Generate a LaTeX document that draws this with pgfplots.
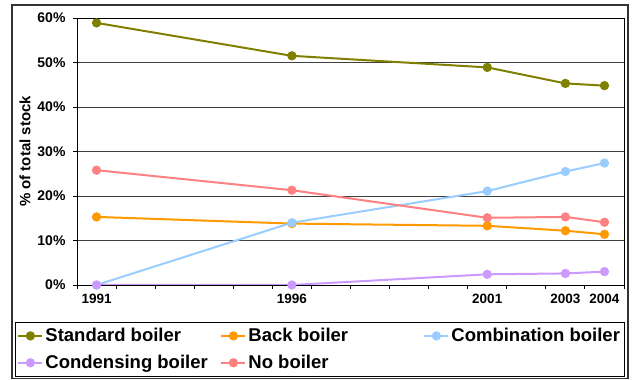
\documentclass[border=0pt]{standalone}
\usepackage{pgfplots}
\pgfplotsset{compat=1.18}
\usepackage{fontspec}
\setmainfont{Liberation Sans}
\definecolor{cstd}{HTML}{808000}
\definecolor{cback}{HTML}{FF9900}
\definecolor{ccomb}{HTML}{99CCFF}
\definecolor{ccond}{HTML}{CC99FF}
\definecolor{cno}{HTML}{FF8080}
\begin{document}
\begin{tikzpicture}[x=1pt,y=1pt]
\useasboundingbox (0,0) rectangle (633,380);
\draw[line width=1.3pt, black!80] (12,1.5) rectangle (628,375);
\begin{axis}[
  at={(77pt,95pt)}, anchor=south west,
  scale only axis, width=547pt, height=267pt,
  xmin=1990.5, xmax=2004.5, ymin=0, ymax=60,
  xtick={1991,1996,2001,2003,2004},
  xticklabels={1991,1996,2001,2003,2004},
  minor xtick={1990.5,1991.5,...,2004.5},
  ytick={0,10,...,60},
  yticklabels={0\%,10\%,20\%,30\%,40\%,50\%,60\%},
  tick pos=left,
  tick align=outside,
  major tick length=4pt, minor tick length=4pt,
  every major x tick/.append style={draw=none},
  every tick/.style={black, line width=0.8pt},
  ymajorgrids,
  grid style={black!75, line width=0.8pt},
  axis line style={black, line width=0.9pt},
  yticklabel style={font=\bfseries\fontsize{14}{16}\selectfont, xshift=-4pt},
  xticklabel style={font=\bfseries\fontsize{13.5}{16}\selectfont, yshift=-2pt},
  ylabel={\% of total stock},
  ylabel style={font=\bfseries\fontsize{15}{18}\selectfont, at={(axis description cs:-0.095,0.5)}, anchor=center},
  every axis plot/.append style={line width=2pt, mark=*, mark size=3.6pt, mark options={solid}},
  legend columns=3,
  legend cell align=left,
  legend style={at={(-0.1134,-0.1386)}, anchor=north west,
    draw=black, line width=0.9pt,
    font=\bfseries\fontsize{18.5}{22}\selectfont,
    inner xsep=2pt, inner ysep=4pt, row sep=8pt,
    /tikz/every even column/.append style={column sep=0pt}},
  legend image code/.code={\draw[#1, mark repeat=2, mark phase=2] plot coordinates {(0pt,0pt) (12pt,0pt) (24pt,0pt)};},
]
\addplot[color=cstd] coordinates {(1991,58.9) (1996,51.5) (2001,48.9) (2003,45.3) (2004,44.8)};
\addlegendentry{\makebox[173pt][l]{Standard boiler}}
\addplot[color=cback] coordinates {(1991,15.3) (1996,13.8) (2001,13.3) (2003,12.2) (2004,11.4)};
\addlegendentry{\makebox[173pt][l]{Back boiler}}
\addplot[color=ccomb] coordinates {(1991,0) (1996,14.0) (2001,21.1) (2003,25.5) (2004,27.4)};
\addlegendentry{Combination boiler}
\addplot[color=ccond] coordinates {(1991,0) (1996,0) (2001,2.4) (2003,2.6) (2004,3.0)};
\addlegendentry{\makebox[173pt][l]{Condensing boiler}}
\addplot[color=cno] coordinates {(1991,25.8) (1996,21.3) (2001,15.1) (2003,15.3) (2004,14.1)};
\addlegendentry{\makebox[173pt][l]{No boiler}}
\end{axis}
\end{tikzpicture}
\end{document}
